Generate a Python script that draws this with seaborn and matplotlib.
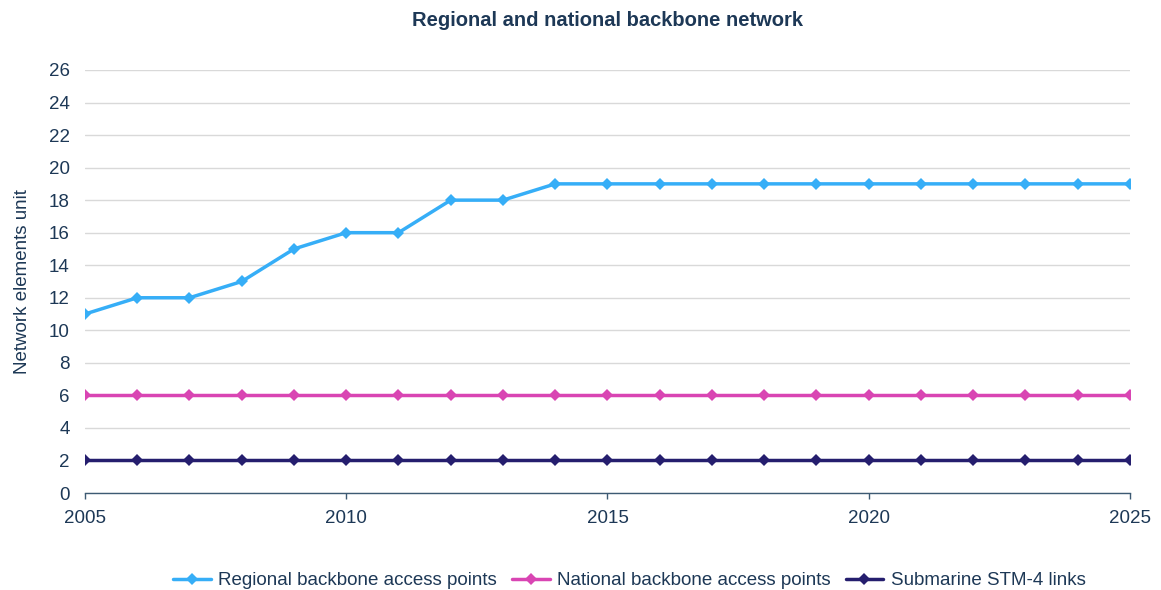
import matplotlib
matplotlib.use("Agg")
import matplotlib.pyplot as plt
import seaborn as sns
import pandas as pd

years = list(range(2005, 2026))
regional = [11, 12, 12, 13, 15, 16, 16, 18, 18, 19, 19, 19, 19, 19, 19, 19, 19, 19, 19, 19, 19]
national = [6] * 21
submarine = [2] * 21
series_names = ["Regional backbone access points", "National backbone access points", "Submarine STM-4 links"]
series_colors = ["#36aef7", "#d945b3", "#251e6e"]

df = pd.DataFrame({"year": years, series_names[0]: regional,
                   series_names[1]: national, series_names[2]: submarine})
long = df.melt(id_vars="year", var_name="series", value_name="value")

sns.set_theme(style="white")
plt.rcParams["font.family"] = ["Liberation Sans", "DejaVu Sans"]
text_color = "#1d3856"

fig = plt.figure(figsize=(11.61, 5.90), dpi=100)
ax = fig.add_axes([0.0732, 0.1644, 0.9001, 0.717])

sns.lineplot(data=long, x="year", y="value", hue="series", hue_order=series_names,
             palette=series_colors, marker="D", markersize=6.5, markeredgewidth=0,
             linewidth=2.5, ax=ax)

ax.set_xlim(2005, 2025)
ax.set_ylim(0, 26)
ax.set_yticks(range(0, 27, 2))
ax.set_xticks(range(2005, 2026, 5))
ax.yaxis.grid(True, color="#d9d9d9", linewidth=1)
ax.set_axisbelow(True)
for s in ["top", "right", "left"]:
    ax.spines[s].set_visible(False)
ax.spines["bottom"].set_color("#3d5a73")
ax.spines["bottom"].set_linewidth(1)
ax.tick_params(axis="x", bottom=True, length=4, width=1, color="#3d5a73",
               labelsize=13.5, labelcolor=text_color, pad=8)
ax.tick_params(axis="y", left=False, length=0, labelsize=13.5, labelcolor=text_color, pad=11)
ax.set_xlabel("")
ax.set_ylabel("Network elements unit", fontsize=13.5, color=text_color, labelpad=13)
ax.set_title("Regional and national backbone network", fontsize=14.5, fontweight="bold",
             color=text_color, pad=32)

ax.legend(loc="center", bbox_to_anchor=(0.521, -0.207), ncol=3, frameon=False,
          fontsize=13.5, labelcolor=text_color, handlelength=2.0, columnspacing=0.8,
          handletextpad=0.4)

fig.savefig("out.png", dpi=100)
